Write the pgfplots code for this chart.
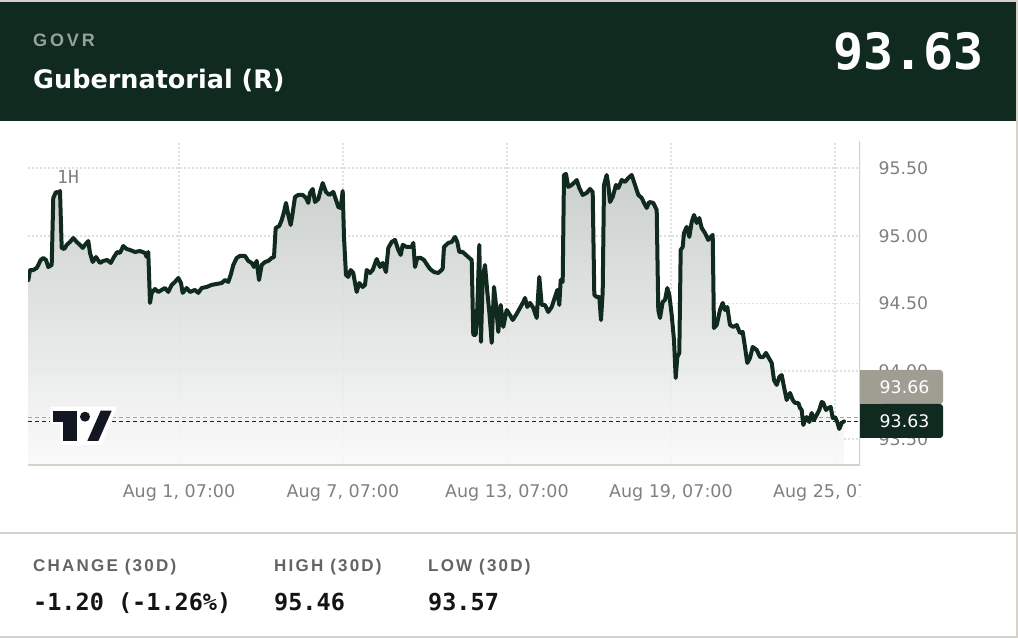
\documentclass[border=0pt]{standalone}
\usepackage{fontspec}
\usepackage{pgfplots}
\usepackage{pgfplotstable}
\pgfplotsset{compat=1.18}
\newfontfamily\dv{DejaVu Sans}
\newfontfamily\dvmono{DejaVu Sans Mono}
\newfontfamily\lsgovr[LetterSpace=16]{Liberation Sans}
\newfontfamily\lslab[LetterSpace=13]{Liberation Sans}
\definecolor{hdr}{RGB}{16,42,32}
\definecolor{lineCol}{RGB}{16,42,30}
\definecolor{govrCol}{RGB}{150,162,155}
\definecolor{tickCol}{RGB}{128,128,128}
\definecolor{gridCol}{RGB}{224,224,224}
\definecolor{borderCol}{RGB}{214,210,201}
\definecolor{boxGray}{RGB}{160,157,147}
\definecolor{fillTop}{RGB}{196,202,199}
\definecolor{fillBot}{RGB}{250,250,250}
\definecolor{dashGray}{RGB}{168,165,156}
\definecolor{logoCol}{RGB}{19,23,34}
\definecolor{labCol}{RGB}{100,100,100}
\definecolor{valCol}{RGB}{20,20,20}
\pgfplotstableread{
x y
0.487 94.673
0.549 94.747
0.670 94.747
0.794 94.762
0.853 94.784
0.940 94.821
1.036 94.836
1.134 94.821
1.218 94.769
1.343 94.784
1.401 95.279
1.500 95.323
1.584 95.316
1.647 95.330
1.709 94.910
1.804 94.902
1.892 94.932
2.012 94.954
2.133 94.983
2.258 94.954
2.378 94.932
2.477 94.910
2.561 94.932
2.682 94.961
2.744 94.873
2.843 94.806
2.964 94.843
3.110 94.799
3.231 94.814
3.377 94.821
3.502 94.799
3.622 94.843
3.743 94.880
3.842 94.873
3.963 94.924
4.087 94.902
4.208 94.895
4.391 94.880
4.574 94.887
4.757 94.873
4.819 94.843
4.877 94.880
4.940 94.504
5.002 94.578
5.123 94.607
5.243 94.585
5.368 94.600
5.489 94.614
5.609 94.585
5.734 94.637
5.854 94.659
5.975 94.688
6.074 94.651
6.136 94.578
6.282 94.614
6.403 94.585
6.586 94.600
6.707 94.578
6.831 94.614
7.014 94.622
7.197 94.637
7.380 94.644
7.563 94.651
7.684 94.673
7.805 94.659
7.892 94.710
7.988 94.784
8.112 94.836
8.233 94.851
8.416 94.851
8.536 94.814
8.661 94.799
8.745 94.769
8.844 94.814
8.928 94.673
9.027 94.784
9.148 94.806
9.268 94.814
9.393 94.836
9.477 94.843
9.539 95.057
9.671 95.072
9.759 95.116
9.843 95.175
9.916 95.242
10.000 95.153
10.088 95.079
10.161 95.168
10.245 95.286
10.366 95.301
10.527 95.301
10.648 95.279
10.732 95.242
10.794 95.316
10.893 95.345
10.977 95.249
11.098 95.271
11.186 95.338
11.259 95.389
11.379 95.323
11.500 95.301
11.647 95.323
11.745 95.264
11.829 95.212
11.917 95.205
11.991 95.330
12.038 94.991
12.111 94.710
12.196 94.696
12.283 94.747
12.378 94.725
12.441 94.651
12.503 94.585
12.598 94.651
12.722 94.622
12.807 94.637
12.869 94.747
12.989 94.725
13.088 94.747
13.235 94.828
13.355 94.769
13.454 94.799
13.575 94.732
13.659 94.910
13.783 94.954
13.904 94.969
14.025 94.895
14.113 94.858
14.186 94.932
14.332 94.917
14.515 94.917
14.574 94.947
14.636 94.769
14.720 94.836
14.845 94.836
14.965 94.821
15.086 94.784
15.185 94.755
15.331 94.732
15.489 94.725
15.649 94.755
15.697 94.917
15.854 94.947
15.979 94.954
16.100 94.991
16.184 94.954
16.257 94.880
16.381 94.880
16.502 94.858
16.623 94.836
16.711 94.821
16.769 94.268
16.857 94.268
16.916 94.467
16.989 94.932
17.051 94.216
17.113 94.688
17.197 94.784
17.282 94.585
17.355 94.437
17.443 94.209
17.527 94.622
17.600 94.489
17.684 94.290
17.772 94.489
17.867 94.327
17.991 94.452
18.112 94.415
18.211 94.378
18.332 94.415
18.478 94.467
18.599 94.511
18.661 94.541
18.745 94.474
18.844 94.504
18.965 94.467
19.089 94.393
19.184 94.696
19.272 94.489
19.393 94.489
19.513 94.437
19.638 94.474
19.759 94.548
19.843 94.600
19.916 94.489
19.967 94.673
20.040 94.659
20.088 95.448
20.161 95.456
20.245 95.360
20.370 95.375
20.490 95.397
20.553 95.411
20.648 95.352
20.772 95.301
20.918 95.316
21.039 95.345
21.138 95.323
21.197 94.563
21.284 94.548
21.380 94.548
21.442 94.378
21.504 94.585
21.552 95.375
21.650 95.448
21.709 95.375
21.771 95.249
21.870 95.286
21.991 95.375
22.075 95.352
22.199 95.411
22.320 95.397
22.441 95.426
22.565 95.448
22.686 95.375
22.807 95.301
22.931 95.279
23.015 95.242
23.114 95.205
23.209 95.249
23.355 95.242
23.480 95.190
23.538 94.452
23.601 94.393
23.699 94.511
23.784 94.526
23.868 94.614
23.941 94.563
24.029 94.415
24.113 94.231
24.175 93.950
24.234 94.105
24.307 94.135
24.358 94.895
24.431 94.917
24.479 95.020
24.577 95.065
24.673 94.991
24.760 95.101
24.845 95.153
24.943 95.094
25.039 95.131
25.126 95.057
25.247 95.020
25.368 94.969
25.456 94.991
25.529 95.006
25.576 94.319
25.675 94.341
25.796 94.452
25.895 94.504
25.979 94.452
26.063 94.474
26.162 94.341
26.283 94.327
26.407 94.341
26.528 94.282
26.627 94.290
26.711 94.179
26.795 94.061
26.894 94.098
26.993 94.179
27.139 94.157
27.260 94.105
27.380 94.105
27.479 94.135
27.563 94.105
27.688 94.061
27.772 93.935
27.871 93.899
27.966 93.958
28.054 93.972
28.138 93.884
28.236 93.788
28.357 93.840
28.456 93.788
28.540 93.766
28.661 93.766
28.723 93.729
28.785 93.714
28.844 93.603
28.906 93.640
28.968 93.662
29.064 93.625
29.151 93.692
29.235 93.640
29.334 93.677
29.429 93.714
29.517 93.773
29.576 93.766
29.675 93.714
29.759 93.729
29.846 93.736
29.920 93.655
30.004 93.662
30.087 93.625
30.161 93.574
30.249 93.618
30.333 93.630
}\govr
\begin{document}
\begin{tikzpicture}
\useasboundingbox (0,0) rectangle (1018pt,638pt);
\fill[white] (0,0) rectangle (1018pt,638pt);
% header band
\fill[hdr] (0,517pt) rectangle (1016pt,636pt);
% card borders
\draw[borderCol, line width=2pt] (0,637pt) -- (1017pt,637pt) -- (1017pt,1pt) -- (0,1pt);
\draw[borderCol, line width=2pt] (0,105pt) -- (1016pt,105pt);
% header texts
\node[anchor=base west, inner sep=0, text=govrCol, font=\lsgovr\bfseries\fontsize{18pt}{20pt}\selectfont] at (33pt,591.3pt) {GOVR};
\node[anchor=base west, inner sep=0, text=white, font=\dv\bfseries\fontsize{25.5pt}{28pt}\selectfont] at (33pt,549.5pt) {Gubernatorial (R)};
\node[anchor=base east, inner sep=0, text=white, font=\dvmono\bfseries\fontsize{50pt}{52pt}\selectfont] at (984pt,568pt) {93.63};
\begin{axis}[
  at={(28pt,173pt)}, anchor=south west,
  scale only axis, width=832pt, height=324pt,
  xmin=0.476, xmax=30.919, ymin=93.308, ymax=95.699,
  xtick={6,12,18,24,30},
  xticklabels={{Aug 1, 07:00},{Aug 7, 07:00},{Aug 13, 07:00},{Aug 19, 07:00},{Aug 25, 07:00}},
  ytick={93.5,94,94.5,95,95.5},
  yticklabel pos=right,
  /pgf/number format/assume math mode=true,
  yticklabel style={/pgf/number format/fixed, /pgf/number format/fixed zerofill, /pgf/number format/precision=2, anchor=west, xshift=15pt, font=\dv\fontsize{17.3pt}{20pt}\selectfont, text=tickCol},
  xticklabel style={font=\dv\fontsize{17.5pt}{20pt}\selectfont, text=tickCol, yshift=-16pt},
  axis line style={draw=none},
  major tick length=0pt,
  tick style={draw=none},
  grid=major,
  major grid style={gridCol, line width=1.6pt, dash pattern=on 2pt off 2pt},
]
\addplot[draw=none, fill opacity=0.88, top color=fillTop, bottom color=fillBot, forget plot] table {\govr} -- (axis cs:30.333,93.308) -- (axis cs:0.487,93.308) -- cycle;
\addplot[dashGray, line width=1.6pt, dash pattern=on 4pt off 3pt, forget plot] coordinates {(0.476,93.66) (30.919,93.66)};
\addplot[lineCol, line width=1.6pt, dash pattern=on 4pt off 3pt, forget plot] coordinates {(0.476,93.63) (30.919,93.63)};
\addplot[lineCol, line width=4pt, line join=round, line cap=round] table {\govr};
\draw[borderCol, line width=2pt] (rel axis cs:0,0) -- (rel axis cs:1,0) -- (rel axis cs:1,1);
\end{axis}
% clip last tick label
\fill[white] (861pt,125pt) rectangle (1010pt,162pt);
% price boxes
\fill[boxGray, rounded corners=3pt] (880pt,234pt) rectangle (943pt,268pt);
\fill[boxGray] (860pt,234pt) rectangle (900pt,268pt);
\fill[hdr, rounded corners=3pt] (880pt,200pt) rectangle (943pt,234pt);
\fill[hdr] (860pt,200pt) rectangle (900pt,234pt);
\node[text=white, font=\dv\fontsize{17.3pt}{20pt}\selectfont, inner sep=0] at (904.5pt,251pt) {93.66};
\node[text=white, font=\dv\fontsize{17.3pt}{20pt}\selectfont, inner sep=0] at (904.5pt,217pt) {93.63};
% 1H
\node[anchor=base west, inner sep=0, text=tickCol, font=\dvmono\fontsize{18pt}{20pt}\selectfont] at (57pt,454pt) {1H};
% logo
\fill[white] (50pt,231.3pt) -- (117.3pt,231.3pt) -- (101.7pt,193pt) -- (60pt,193pt) -- (60pt,213.5pt) -- (50pt,213.5pt) -- cycle;
\fill[logoCol] (52.7pt,216.3pt) rectangle (76.7pt,227.3pt);
\fill[logoCol] (63.3pt,197pt) rectangle (76.7pt,227.3pt);
\fill[logoCol] (85pt,221.3pt) circle (5pt);
\fill[logoCol] (87.3pt,197pt) -- (100.7pt,227.3pt) -- (111.7pt,227.3pt) -- (98.3pt,197pt) -- cycle;
% footer
\node[anchor=base west, inner sep=0, text=labCol, font=\lslab\bfseries\fontsize{17pt}{20pt}\selectfont] at (33pt,66.3pt) {CHANGE (30D)};
\node[anchor=base west, inner sep=0, text=labCol, font=\lslab\bfseries\fontsize{17pt}{20pt}\selectfont] at (274pt,66.3pt) {HIGH (30D)};
\node[anchor=base west, inner sep=0, text=labCol, font=\lslab\bfseries\fontsize{17pt}{20pt}\selectfont] at (428pt,66.3pt) {LOW (30D)};
\node[anchor=base west, inner sep=0, text=valCol, font=\dvmono\bfseries\fontsize{23.5pt}{26pt}\selectfont] at (33pt,28pt) {-1.20 (-1.26\%)};
\node[anchor=base west, inner sep=0, text=valCol, font=\dvmono\bfseries\fontsize{23.5pt}{26pt}\selectfont] at (274pt,28pt) {95.46};
\node[anchor=base west, inner sep=0, text=valCol, font=\dvmono\bfseries\fontsize{23.5pt}{26pt}\selectfont] at (428pt,28pt) {93.57};
\end{tikzpicture}
\end{document}
